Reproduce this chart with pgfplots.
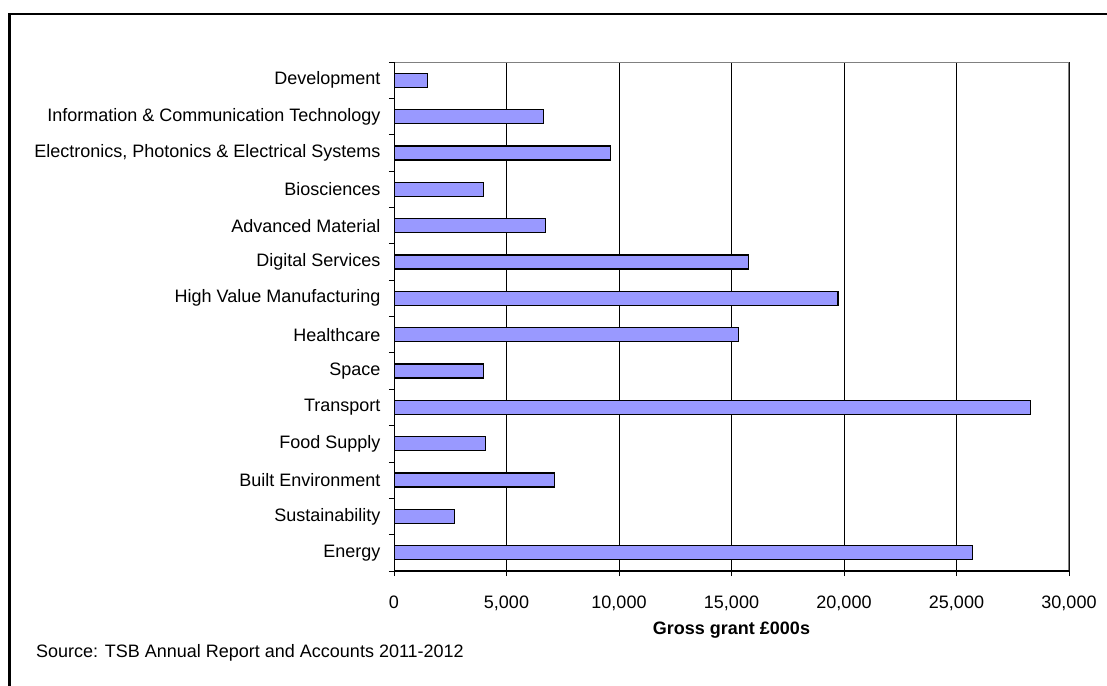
\documentclass[border=0pt]{standalone}
\usepackage{fontspec}
\setmainfont{Liberation Sans}
\usepackage{pgfplots}
\pgfplotsset{compat=1.18}
\definecolor{barfill}{RGB}{153,153,255}
\begin{document}
\begin{tikzpicture}
\path[use as bounding box] (0bp,0bp) rectangle (1107bp,-686bp);
\draw[line width=2.5bp] (9.5bp,-700bp) -- (9.5bp,-14bp) -- (1120bp,-14bp);
\begin{axis}[
  at={(394bp,-571bp)}, anchor=south west,
  scale only axis, width=675bp, height=509bp,
  xbar, bar width=14bp,
  xmin=0, xmax=30000, ymin=-0.5, ymax=13.5,
  axis line style={draw=none},
  xtick={0,5000,...,30000},
  scaled x ticks=false,
  /pgf/number format/.cd, 1000 sep={,}, assume math mode=true, /pgfplots/.cd,
  xmajorgrids=true,
  major grid style={black, line width=0.8bp},
  ytick={-0.5,0.5,...,13.5},
  yticklabels={},
  extra y ticks={0,...,13},
  extra y tick labels={Energy,Sustainability,Built Environment,Food Supply,Transport,Space,Healthcare,High Value Manufacturing,Digital Services,Advanced Material,Biosciences,{Electronics, Photonics \& Electrical Systems},Information \& Communication Technology,Development},
  extra y tick style={major tick length=0pt, yticklabel style={xshift=-10bp}},
  tick align=outside, xtick pos=bottom, ytick pos=left,
  major tick length=5bp,
  tick style={black, line width=0.8bp},
  tick label style={font=\fontsize{18bp}{21bp}\selectfont},
  xticklabel style={yshift=-16bp},
  xlabel={\textbf{Gross grant £000s}},
  xlabel style={font=\fontsize{18bp}{21bp}\selectfont, yshift=-5bp},
]
\addplot[fill=barfill, draw=black, line width=1.3bp] coordinates {
(25700,0) (2680,1) (7140,2) (4070,3) (28300,4) (3990,5) (15320,6)
(19730,7) (15770,8) (6730,9) (3970,10) (9610,11) (6650,12) (1480,13)
};
\draw[gray, line width=1.5bp] (rel axis cs:0,1) -- (rel axis cs:1,1) -- (rel axis cs:1,0);
\draw[black, line width=1.2bp] (rel axis cs:0,1) -- (rel axis cs:0,0) -- (rel axis cs:1,0);
\end{axis}
\node[anchor=west, inner sep=0pt, font=\fontsize{18bp}{21bp}\selectfont] at (36bp,-653bp) {Source: TSB Annual Report and Accounts 2011-2012};
\end{tikzpicture}
\end{document}
